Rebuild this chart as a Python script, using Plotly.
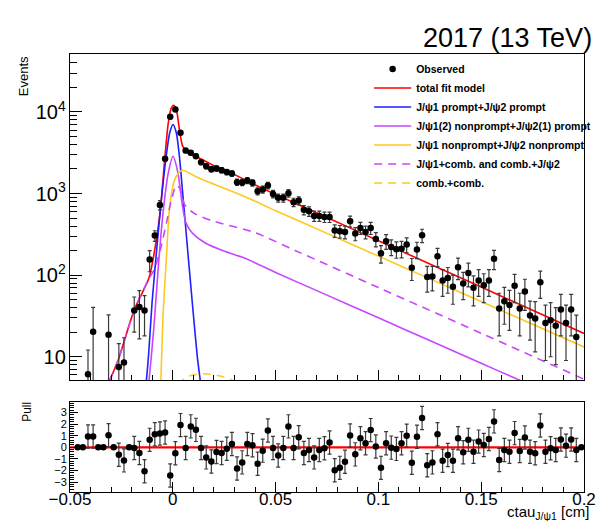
import plotly.graph_objects as go

# binning of the ctau distribution
N_BINS = 100
X_LO, X_HI = -0.05, 0.2

# observed (weighted) events per bin, None = empty / off scale
events = [None, None, None, 6.1, 20.3, None, None, 18.6, None, 7.5,
          8.5, None, 37, 40.6, 37, 155, 305, 726, 2660, 8710,
          10700, 5550, 3370, 3160, 2870, 2420, 2160, 1990, 2030, 1930,
          1830, 1760, 1380, 1370, 1445, 1352, 1069, 1120, 1254, 990,
          885, 885, 1010, 783, 820, 631, 607, 532, 532, 517,
          517, 352, 345, 339, 458, 323, 379, 339, 379, 277,
          185, 260, 222, 208, 211, 237, 123, 206, 308, 95,
          96, 170, 86, 92, 72, 125, 79, 106, 70, 86,
          75, 86, 159, 39, 48, 43, 74, 39, 63, 32,
          29.5, 82, 26, 28, 24, 38, 26, 38, 17.4, None]

events_err = [0, 0, 0, 6, 20, 0, 0, 14, 0, 7,
              8.6, 0, 17, 24, 19, 45, 45, 95, 170, 300,
              330, 240, 190, 185, 175, 160, 150, 145, 148, 143,
              140, 138, 122, 121, 125, 121, 108, 110, 117, 104,
              98, 98, 105, 92, 94, 83, 81, 76, 76, 75,
              75, 62, 61, 60, 70, 59, 64, 60, 64, 55,
              45, 53, 49, 47, 48, 50, 37, 47, 57, 33,
              32, 43, 31, 32, 28, 37, 29, 34, 28, 31,
              29, 31, 42, 21, 23, 22, 28, 21, 26, 16,
              18, 30, 17, 18, 16, 20, 17, 20, 15, 0]

pulls = [None, 0, 0, 0.93, 0.93, 0, 0, 1.04, 0, -0.64,
         -1.13, 0, -0.06, -0.49, -2.06, 0.64, 1.13, 1.19, 1.28, -2.43,
         -0.52, 1.91, -0.06, 1.80, 1.50, -0.06, -0.87, -1.22, -0.41, -0.49,
         -0.12, 0.29, -1.83, -1.30, 0.29, 0.17, -1.42, -0.29, 1.45, -0.06,
         -0.70, -0.06, 1.80, -0.06, 0.87, -0.49, -0.23, -0.87, -0.23, -0.09,
         0.41, -1.97, -1.77, -1.25, 1.01, -0.61, 0.78, 0.35, 1.48, 0.06,
         -1.77, 0.35, -0.03, -0.14, 0.35, 0.99, -1.33, 0.90, 2.52, -1.54,
         -1.30, 1.13, -1.16, -0.67, -1.16, 0.78, -0.43, 0.64, -0.38, 0.49,
         0.20, 0.72, 2.23, -1.10, -0.23, -0.38, 1.22, -0.32, 0.84, -0.38,
         -0.52, 1.88, -0.38, -0.09, -0.23, 0.67, 0.14, 0.67, -0.23, 0]

# fit model components
total_x = [-0.0309, -0.0265, -0.0187, -0.0116, -0.0085, -0.0062, -0.0038,
           -0.0022, -0.0007, 0.0004, 0.0017, 0.0032, 0.0048, 0.0072, 0.0126,
           0.0205, 0.0283, 0.0346, 0.05, 0.075, 0.1, 0.125, 0.15, 0.175, 0.2]
total_y = [5.0, 9.2, 37.8, 92, 226, 580, 2870,
           7360, 11250, 12030, 10740, 6100, 3810, 3160, 2740,
           2160, 1800, 1490, 977, 508, 264, 137, 71.4, 37.1, 19.3]

prompt_x = [-0.0150, -0.0129, -0.0116, -0.0101, -0.0077, -0.0054, -0.0030, -0.0015,
            0.0001, 0.0017, 0.0032, 0.0048, 0.0072, 0.0095, 0.0119, 0.0134, 0.0152]
prompt_y = [2.0, 5.0, 12.2, 45.5, 226, 927, 3155, 5550,
            7030, 5550, 2870, 1019, 206, 45.5, 10.1, 5.0, 2.0]

mixed_x = [-0.0130, -0.0116, -0.0093, -0.0069, -0.0046, -0.0022, 0.0001, 0.0025,
           0.0045, 0.0064, 0.0095, 0.0158, 0.0252, 0.0346, 0.05, 0.075,
           0.1, 0.125, 0.15, 0.17, 0.18]
mixed_y = [2.5, 5.0, 21.4, 141, 631, 1795, 2870, 1795,
           767, 437, 329, 248, 196, 163, 108, 56.9,
           30, 15.8, 8.3, 5.0, 3.9]

nonprompt_x = [-0.0064, -0.0058, -0.0048, -0.0032, -0.0015, 0.0006, 0.0025, 0.0048,
               0.0126, 0.0346, 0.05, 0.075, 0.1, 0.125, 0.15, 0.175, 0.2]
nonprompt_y = [2.0, 5.0, 30, 150, 700, 1400, 1750, 1930,
               1550, 927, 617, 325, 171, 90, 47.5, 25, 13.2]

single_comb_x = [-0.0309, -0.0265, -0.0187, -0.0116, -0.0090, -0.0060, -0.0030, -0.0007,
                 0.0017, 0.0035, 0.0056, 0.0102, 0.0200, 0.0393, 0.06, 0.1,
                 0.15, 0.2]
single_comb_y = [5.0, 9.2, 37.8, 90, 117, 209, 447, 832,
                 1260, 1150, 741, 575, 457, 337, 198, 70.5,
                 19.4, 5.3]

comb_comb_x = [0.0020, 0.0042, 0.0080, 0.0158, 0.0230, 0.0299, 0.0340]
comb_comb_y = [3.0, 5.0, 5.8, 6.2, 5.8, 5.0, 3.5]

bin_w = (X_HI - X_LO) / N_BINS
bin_x = [X_LO + bin_w * (i + 0.5) for i in range(N_BINS)]
pull_err = [1 if e is not None else 0 for e in events]

FONT = "Liberation Sans, Arial, Helvetica, sans-serif"
RED, BLUE, VIOLET, GOLD = "#ff0000", "#1f1fff", "#c845ff", "#ffc81e"

fig = go.Figure()

def curve(x, y, name, color, dash="solid", rank=0):
    fig.add_trace(go.Scatter(
        x=x, y=y, name=name, mode="lines", xaxis="x", yaxis="y",
        line=dict(color=color, width=1.6, dash=dash, shape="spline", smoothing=0.7),
        legendrank=rank, hoverinfo="skip"))

curve(total_x, total_y, "total fit model", RED, rank=2)
curve(prompt_x, prompt_y, "J/\u03c81 prompt+J/\u03c82 prompt", BLUE, rank=3)
curve(mixed_x, mixed_y, "J/\u03c81(2) nonprompt+J/\u03c82(1) prompt", VIOLET, rank=4)
curve(nonprompt_x, nonprompt_y, "J/\u03c81 nonprompt+J/\u03c82 nonprompt", GOLD, rank=5)
curve(single_comb_x, single_comb_y, "J/\u03c81+comb. and comb.+J/\u03c82", VIOLET, "8px,6px", rank=6)
curve(comb_comb_x, comb_comb_y, "comb.+comb.", GOLD, "8px,6px", rank=7)

fig.add_trace(go.Scatter(
    x=bin_x, y=events, name="Observed", mode="markers", xaxis="x", yaxis="y",
    marker=dict(color="black", size=6.5),
    error_y=dict(type="data", array=events_err, color="#3a3a3a", thickness=1.2, width=2),
    legendrank=1))

fig.add_trace(go.Scatter(
    x=bin_x, y=pulls, mode="markers", xaxis="x2", yaxis="y2", showlegend=False,
    marker=dict(color="black", size=6.5),
    error_y=dict(type="data", array=pull_err, color="#3a3a3a", thickness=1.2, width=2)))

fig.add_shape(type="line", xref="x2 domain", yref="y2", x0=0, x1=1, y0=0, y1=0,
              line=dict(color=RED, width=2.2), layer="below")

x_common = dict(range=[X_LO, X_HI], showgrid=False, zeroline=False, showline=True,
                mirror=True, linecolor="black", linewidth=1, ticks="inside",
                dtick=0.05, tick0=0, ticklen=10, tickcolor="black",
                minor=dict(ticks="inside", dtick=0.01, ticklen=5, tickcolor="black"))

# the page body has an 8px margin; a bigger figure makes the page scroll and shrink,
# so the figure stays 600x513 and the frame sits where the reference has it
fig.update_layout(
    width=600, height=513,
    margin=dict(l=62, r=12, t=46, b=29),
    paper_bgcolor="white", plot_bgcolor="white",
    font=dict(family=FONT, color="black"),
    xaxis=dict(**x_common, anchor="y", showticklabels=False),
    xaxis2=dict(**x_common, anchor="y2", matches="x", ticklabeloverflow="allow",
                tickfont=dict(size=17), ticklabelstandoff=-8),
    yaxis=dict(type="log", domain=[0.2557, 1], range=[0.715, 4.71], anchor="x",
               showgrid=False, zeroline=False, showline=True, mirror=True,
               linecolor="black", ticks="inside", dtick=1, ticklen=12,
               exponentformat="power", tickfont=dict(size=16), tickcolor="black",
               minor=dict(ticks="inside", dtick="D1", ticklen=7, tickcolor="black")),
    yaxis2=dict(domain=[0, 0.2055], range=[-3.85, 3.9], anchor="x2",
                showgrid=False, zeroline=False, showline=True, mirror=True,
                linecolor="black", ticks="inside", dtick=1, ticklen=8,
                tickfont=dict(size=11), tickcolor="black",
                minor=dict(ticks="inside", dtick=0.2, ticklen=4, tickcolor="black")),
    legend=dict(x=0.582, y=0.999, xanchor="left", yanchor="top",
                bgcolor="rgba(255,255,255,0)", font=dict(size=10.5, weight="bold"),
                itemwidth=37, tracegroupgap=0),
    showlegend=True,
)

fig.add_annotation(text="2017 (13 TeV)", xref="paper", yref="paper", x=1, y=1.0365,
                   xanchor="right", yanchor="middle", xshift=10, showarrow=False,
                   font=dict(size=27))
fig.add_annotation(text="Events", xref="paper", yref="paper", x=-0.091, y=1.0,
                   xanchor="center", yanchor="top", textangle=-90, showarrow=False,
                   font=dict(size=13))
fig.add_annotation(text="Pull", xref="paper", yref="paper", x=-0.084, y=0.21,
                   xanchor="center", yanchor="top", textangle=-90, showarrow=False,
                   font=dict(size=12))
fig.add_annotation(text="ctau<sub>J/\u03c81</sub> [cm]", xref="paper", yref="paper",
                   x=1, y=-0.046, xanchor="right", yanchor="middle", xshift=7,
                   showarrow=False, font=dict(size=15))

fig.write_html("out.html")
